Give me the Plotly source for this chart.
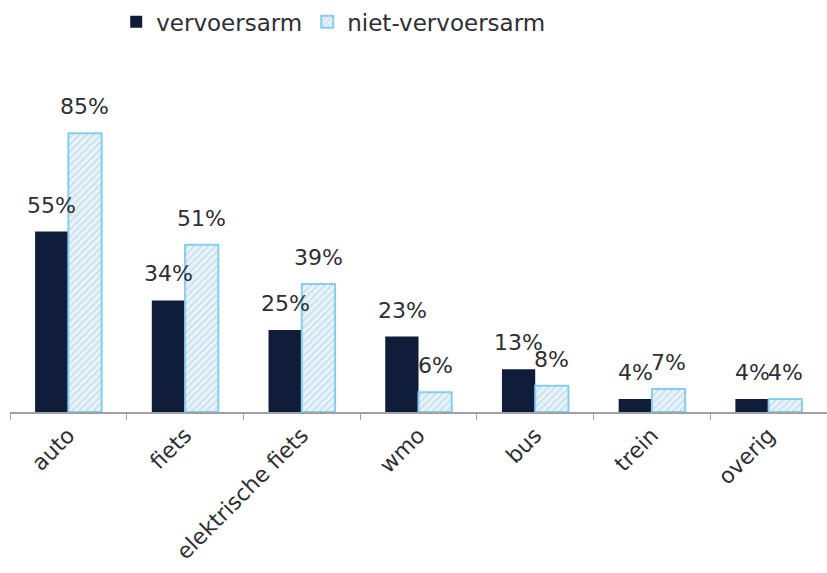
import plotly.graph_objects as go

categories = ["auto", "fiets", "elektrische fiets", "wmo", "bus", "trein", "overig"]
vervoersarm = [55, 34, 25, 23, 13, 4, 4]
niet_vervoersarm = [85, 51, 39, 6, 8, 7, 4]

DARK = "#0f1c3a"
LIGHT_LINE = "#86cdef"
LIGHT_BG = "#eaf3f8"
TEXT = "#2e2e33"
FONT = "DejaVu Sans"

fig = go.Figure()
fig.add_trace(go.Bar(
    name="vervoersarm", x=categories, y=vervoersarm,
    marker=dict(color=DARK, line=dict(width=0)),
))
fig.add_trace(go.Bar(
    name="niet-vervoersarm", x=categories, y=niet_vervoersarm,
    marker=dict(
        color=LIGHT_BG,
        line=dict(color=LIGHT_LINE, width=2),
        pattern=dict(shape="/", fgcolor="#a3cde4", bgcolor=LIGHT_BG, size=5, solidity=0.35),
    ),
))

# value labels above each bar
half = 16.5
for cat, v1, v2 in zip(categories, vervoersarm, niet_vervoersarm):
    for val, shift in ((v1, -half), (v2, half)):
        fig.add_annotation(
            x=cat, y=val, text=f"{val}%", showarrow=False,
            xshift=shift, yshift=12, yanchor="bottom",
            font=dict(family=FONT, size=22, color=TEXT),
        )

fig.update_layout(
    width=827, height=573,
    margin=dict(l=10, r=0, t=80, b=161),
    paper_bgcolor="white", plot_bgcolor="white",
    barmode="group", bargap=0.43, bargroupgap=0,
    font=dict(family=FONT, size=22, color=TEXT),
    legend=dict(
        orientation="h", x=0.13, y=1.255, xanchor="left", yanchor="top",
        font=dict(family=FONT, size=23, color=TEXT),
        itemsizing="constant", traceorder="normal",
    ),
    xaxis=dict(
        showline=True, linecolor="#a0a0a8", linewidth=1.5,
        ticks="outside", tickson="boundaries", ticklen=6, tickcolor="#a0a0a8",
        tickangle=-45, tickfont=dict(family=FONT, size=22, color=TEXT),
        showgrid=False,
    ),
    yaxis=dict(range=[0, 100], visible=False, showgrid=False),
)

fig.write_html("out.html")
